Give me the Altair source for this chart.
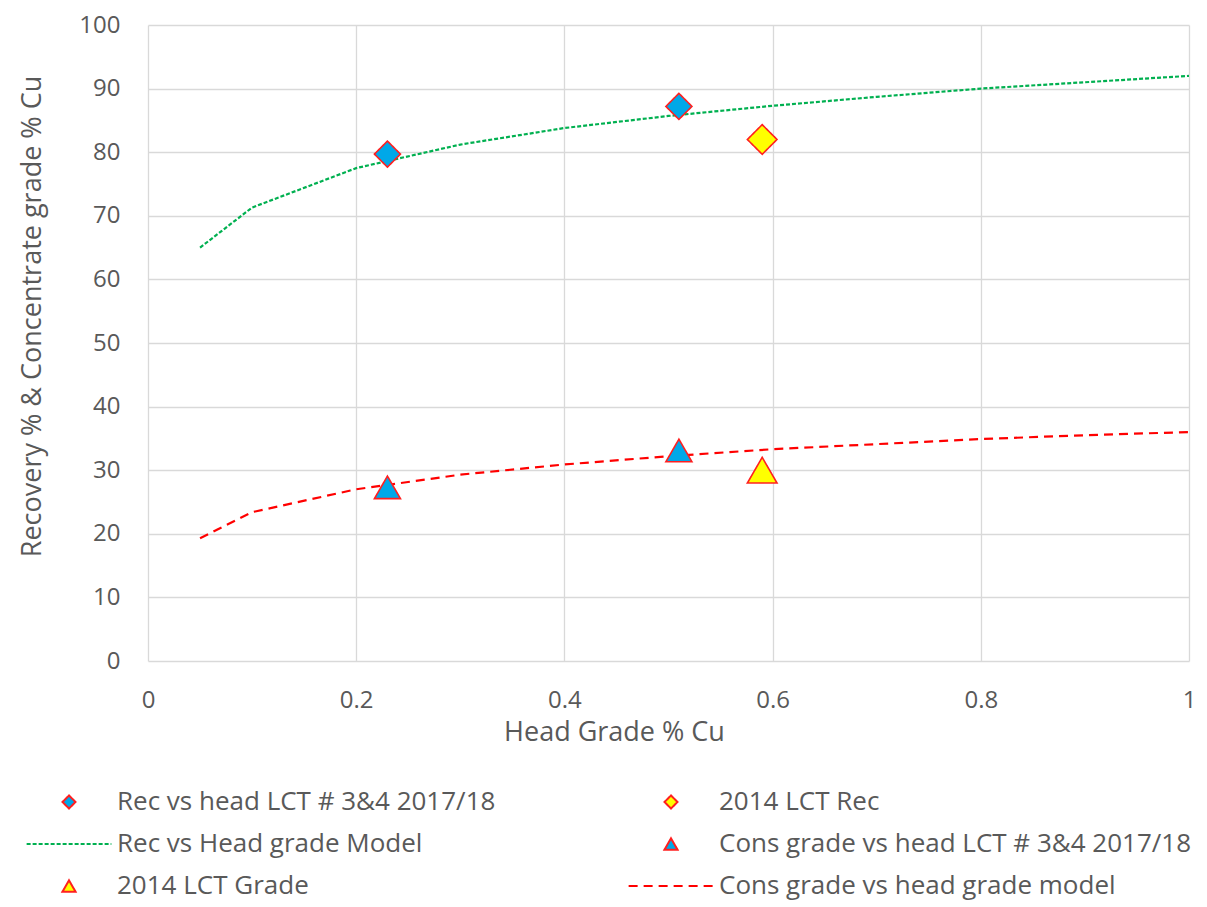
import altair as alt
import pandas as pd

# ---- data ----
series_names = [
    "Rec vs head LCT # 3&4 2017/18",
    "2014 LCT Rec",
    "Rec vs Head grade Model",
    "Cons grade vs head LCT # 3&4 2017/18",
    "2014 LCT Grade",
    "Cons grade vs head grade model",
]

rec_lct_x = [0.23, 0.51]
rec_lct_y = [79.7, 87.2]
rec_2014_x = [0.59]
rec_2014_y = [82.0]
grade_lct_x = [0.23, 0.51]
grade_lct_y = [27.3, 33.1]
grade_2014_x = [0.59]
grade_2014_y = [30.0]

model_x = [0.05, 0.1, 0.2, 0.3, 0.4, 0.5, 0.6, 0.7, 0.8, 0.9, 1.0]
rec_model_y = [65.0, 71.3, 77.5, 81.2, 83.8, 85.7, 87.3, 88.7, 90.0, 91.0, 92.0]
grade_model_y = [19.3, 23.4, 27.0, 29.3, 30.9, 32.2, 33.3, 34.1, 34.9, 35.5, 36.0]

x_ticks = [0, 0.2, 0.4, 0.6, 0.8, 1]
y_ticks = [0, 10, 20, 30, 40, 50, 60, 70, 80, 90, 100]

# ---- tables ----
def rows(xs, ys, name):
    return [{"x": a, "y": b, "series": name} for a, b in zip(xs, ys)]

blue_points = pd.DataFrame(
    rows(rec_lct_x, rec_lct_y, series_names[0])
    + rows(grade_lct_x, grade_lct_y, series_names[3])
)
yellow_points = pd.DataFrame(
    rows(rec_2014_x, rec_2014_y, series_names[1])
    + rows(grade_2014_x, grade_2014_y, series_names[4])
)
rec_line = pd.DataFrame(rows(model_x, rec_model_y, series_names[2]))
grade_line = pd.DataFrame(rows(model_x, grade_model_y, series_names[5]))

# ---- styles ----
BLUE = "#00A8E8"
YELLOW = "#FFFF00"
RED = "#FF1F1F"
GREEN = "#00B050"
LINE_RED = "#FF0000"
GREEN_DASH = [4, 2]
RED_DASH = [9, 6]
seg = "M-6.5,0L6.5,0"

fill_scale = alt.Scale(domain=series_names,
                       range=[BLUE, YELLOW, "transparent", BLUE, YELLOW, "transparent"])
stroke_scale = alt.Scale(domain=series_names,
                         range=[RED, RED, GREEN, RED, RED, LINE_RED])
shape_scale = alt.Scale(domain=series_names,
                        range=["diamond", "diamond", seg, "triangle-up", "triangle-up", seg])
dash_scale = alt.Scale(domain=series_names,
                       range=[[1, 0], [1, 0], GREEN_DASH, [1, 0], [1, 0], RED_DASH])

FONT = "Open Sans"
GREY = "#595959"

legend_def = alt.Legend(
    title=None,
    orient="none",
    legendX=-92,
    legendY=764,
    direction="horizontal",
    columns=2,
    columnPadding=128,
    rowPadding=16,
    symbolSize=170,
    symbolStrokeWidth=2,
    labelFont=FONT,
    labelFontSize=26,
    labelColor=GREY,
    labelOffset=35,
    labelLimit=600,
)

x_enc = alt.X("x:Q", scale=alt.Scale(domain=[0, 1], nice=False),
              axis=alt.Axis(values=x_ticks, title="Head Grade % Cu", format="~g",
                            titleX=466, titleY=79, titleAlign="center",
                            titleBaseline="alphabetic",
                            labelPadding=27, labelFlush=False))
y_enc = alt.Y("y:Q", scale=alt.Scale(domain=[0, 100], nice=False),
              axis=alt.Axis(values=y_ticks,
                            title="Recovery % & Concentrate grade % Cu",
                            titleX=-116, titleY=291, titleAlign="center",
                            titleBaseline="middle", titleAngle=270,
                            labelPadding=28))

rec_line_layer = alt.Chart(rec_line).mark_line(
    color=GREEN, strokeDash=GREEN_DASH, strokeWidth=2.2
).encode(x=x_enc, y=y_enc)

grade_line_layer = alt.Chart(grade_line).mark_line(
    color=LINE_RED, strokeDash=RED_DASH, strokeWidth=2.2
).encode(x=x_enc, y=y_enc)


def marker_layer(df, size):
    return alt.Chart(df).mark_point(
        filled=True, opacity=1, strokeWidth=1.6, size=size
    ).encode(
        x=x_enc,
        y=y_enc,
        fill=alt.Fill("series:N", scale=fill_scale, legend=legend_def),
        stroke=alt.Stroke("series:N", scale=stroke_scale, legend=legend_def),
        shape=alt.Shape("series:N", scale=shape_scale, legend=legend_def),
        strokeDash=alt.StrokeDash("series:N", scale=dash_scale, legend=legend_def),
    )


chart = (
    alt.layer(
        rec_line_layer,
        grade_line_layer,
        marker_layer(blue_points, 680),
        marker_layer(yellow_points, 880),
    )
    .properties(
        width=1041,
        height=636,
        autosize=alt.AutoSizeParams(type="none"),
        padding={"left": 140, "top": 17, "right": 10, "bottom": 245},
        background="white",
    )
    .configure_view(stroke=None)
    .configure_axis(
        grid=True,
        gridColor="#D9D9D9",
        gridWidth=1.3,
        domain=False,
        ticks=False,
        labelFont=FONT,
        labelFontSize=24,
        labelColor=GREY,
        titleFont=FONT,
        titleFontSize=27,
        titleColor=GREY,
        titleFontWeight="normal",
    )
)

chart.save("out.html", embed_options={"renderer": "svg", "actions": False})
